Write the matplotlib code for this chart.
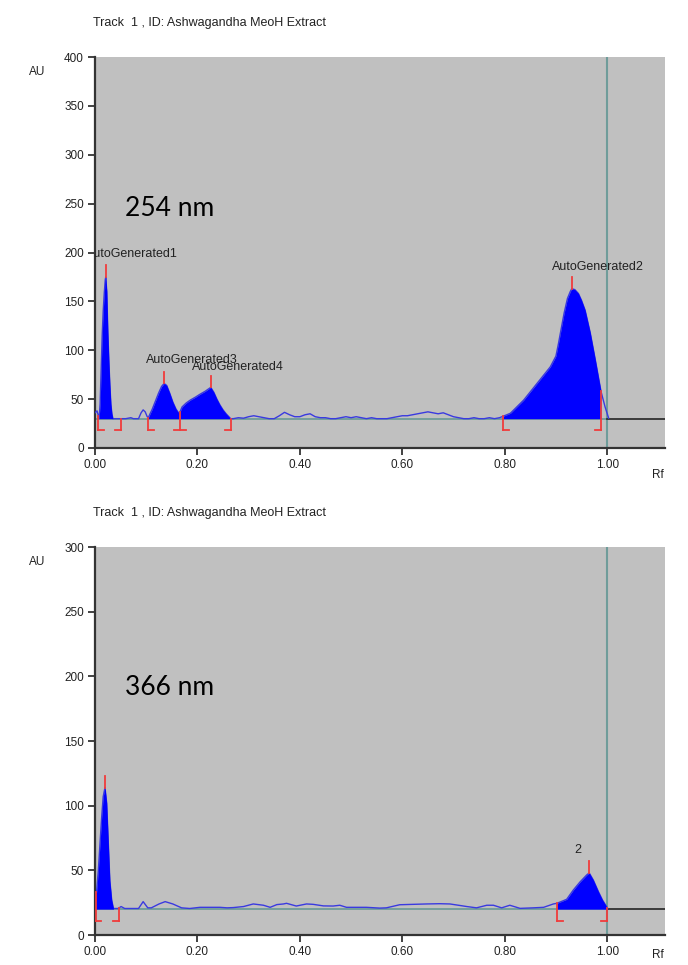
import numpy as np
import matplotlib
matplotlib.use('Agg')
import matplotlib.pyplot as plt

plt.rcParams['font.family'] = ['Liberation Sans', 'DejaVu Sans']

# ---- 254 nm track (top) ----
rf_254 = [0.000, 0.004, 0.008, 0.010, 0.012, 0.014, 0.016, 0.018, 0.020, 0.021, 0.023,
          0.025, 0.027, 0.029, 0.031, 0.033, 0.035, 0.050, 0.060, 0.070, 0.075, 0.085,
          0.090, 0.094, 0.098, 0.102, 0.104, 0.112, 0.118, 0.124, 0.130, 0.135, 0.140,
          0.146, 0.152, 0.158, 0.163, 0.166, 0.170, 0.178, 0.186, 0.196, 0.205, 0.215,
          0.226, 0.232, 0.238, 0.244, 0.250, 0.256, 0.265, 0.270, 0.280, 0.290, 0.300,
          0.310, 0.320, 0.330, 0.340, 0.350, 0.360, 0.370, 0.380, 0.390, 0.400, 0.410,
          0.420, 0.430, 0.440, 0.450, 0.460, 0.470, 0.480, 0.490, 0.500, 0.510, 0.520,
          0.530, 0.540, 0.550, 0.560, 0.570, 0.580, 0.590, 0.600, 0.610, 0.620, 0.630,
          0.640, 0.650, 0.660, 0.670, 0.680, 0.690, 0.700, 0.710, 0.720, 0.730, 0.740,
          0.750, 0.760, 0.770, 0.780, 0.790, 0.797, 0.811, 0.837, 0.863, 0.889, 0.900,
          0.905, 0.911, 0.916, 0.9225, 0.928, 0.931, 0.937, 0.944, 0.950, 0.957, 0.967,
          0.977, 0.988, 0.996, 1.003]
au_254 = [36, 38, 30, 45, 80, 115, 140, 158, 172, 175, 160,
          120, 90, 65, 45, 35, 30, 30, 30, 31, 30, 30,
          36, 39, 37, 32, 31, 40, 48, 56, 63, 66, 64,
          56, 47, 40, 36, 37, 42, 46, 49, 52, 55, 58,
          62, 57, 50, 44, 39, 35, 30, 30, 31, 30.5, 32,
          33, 32, 31, 30, 30, 33, 36.5, 34, 32, 32, 34,
          35, 32, 31, 31, 30, 30, 31, 32, 31, 32, 31,
          30, 31, 30, 30, 30, 31, 32, 33, 33, 34, 35,
          36, 37, 36, 35, 36, 34, 32, 31, 30, 30, 31,
          30, 30, 31, 30, 31, 32.5, 35.5, 49, 66, 83, 94,
          107, 124, 138, 153, 160, 163, 162, 158, 151, 141, 118,
          90, 58, 42, 30.5]
base_254 = 30
windows_254 = [(0.008, 0.035), (0.104, 0.166), (0.166, 0.265), (0.797, 0.988)]
peaks_254 = [(0.021, 175), (0.135, 66), (0.226, 62), (0.931, 163)]
brackets_254 = [(0.0065, 'l'), (0.050, 'r'), (0.104, 'l'), (0.166, 't'),
                (0.265, 'r'), (0.797, 'l'), (0.988, 'r')]
labels_254 = ['AutoGenerated1', 'AutoGenerated3', 'AutoGenerated4', 'AutoGenerated2']
label_pos_254 = [(-0.018, 198), (0.100, 90), (0.189, 83), (0.892, 185)]

# ---- 366 nm track (bottom) ----
rf_366 = [0.000, 0.003, 0.0065, 0.0098, 0.013, 0.016, 0.0195, 0.0228, 0.026, 0.029, 0.0326,
          0.036, 0.045, 0.051, 0.058, 0.085, 0.094, 0.103, 0.110, 0.125, 0.137, 0.152,
          0.169, 0.185, 0.205, 0.225, 0.244, 0.258, 0.270, 0.290, 0.309, 0.329, 0.342,
          0.355, 0.368, 0.374, 0.393, 0.413, 0.426, 0.446, 0.465, 0.478, 0.491, 0.504,
          0.530, 0.556, 0.569, 0.595, 0.621, 0.647, 0.673, 0.693, 0.713, 0.726, 0.745,
          0.765, 0.778, 0.794, 0.810, 0.830, 0.856, 0.876, 0.895, 0.902, 0.921, 0.934,
          0.947, 0.960, 0.965, 0.973, 0.983, 0.991, 1.001]
au_366 = [33, 33, 50, 71, 91, 107, 114, 102, 71, 42, 27,
          20.5, 20.5, 22, 20.5, 20.5, 25.8, 21, 21, 24, 25.8, 24,
          21, 20.5, 21.4, 21.4, 21.4, 21, 21.2, 22, 24, 23, 21.4,
          23.5, 24, 24.5, 22.4, 24, 23.7, 22.5, 22.4, 23, 21.4, 21.4,
          21.4, 20.8, 21, 23.4, 23.7, 24, 24.2, 24, 22.8, 22, 21,
          23, 23, 21, 23, 20.6, 21, 21.4, 24, 24.5, 27.6, 34.8,
          41, 46.4, 48, 42.5, 33.5, 27, 20.6]
base_366 = 20
windows_366 = [(0.000, 0.036), (0.902, 1.001)]
peaks_366 = [(0.0195, 114), (0.965, 48)]
brackets_366 = [(0.001, 'l'), (0.046, 'r'), (0.902, 'l'), (1.000, 'r')]
labels_366 = ['2']
label_pos_366 = [(0.935, 66)]

x_ticks = [0.0, 0.2, 0.4, 0.6, 0.8, 1.0]
x_ticklabels = ['0.00', '0.20', '0.40', '0.60', '0.80', '1.00']

GRAY = '#c0c0c0'
BLUE = '#0000ff'
LINE = '#3a3ae0'
RED = '#f03c3c'
TEAL = '#6f9c9a'


def draw_track(ax, rf, au, base, ymax, windows, peaks, brackets, labels, label_pos, tick_h):
    rf = np.array(rf)
    au = np.array(au)
    ax.set_facecolor(GRAY)
    ax.set_xlim(0, 1.113)
    ax.set_ylim(0, ymax)
    # baseline: teal up to front, dark beyond
    ax.plot([0, 1.0], [base, base], color=TEAL, lw=1.3, zorder=2)
    ax.plot([1.0, 1.113], [base, base], color='#303030', lw=1.3, zorder=2)
    ax.axvline(1.0, color=TEAL, lw=1.5, zorder=1)
    ax.plot(rf, au, color=LINE, lw=1.0, zorder=3)
    for a, b in windows:
        m = (rf >= a - 1e-9) & (rf <= b + 1e-9)
        ax.fill_between(rf[m], base, au[m], color=BLUE, lw=0, zorder=4)
    for x, y in peaks:
        ax.plot([x, x], [y, y + tick_h], color=RED, lw=1.3, zorder=5)
    low = base - tick_h
    foot = 0.011
    for x, kind in brackets:
        top = max(base, float(np.interp(x, rf, au)))
        ax.plot([x, x], [top, low], color=RED, lw=1.3, zorder=5)
        if kind == 'l':
            ax.plot([x, x + foot], [low, low], color=RED, lw=1.3, zorder=5)
        elif kind == 'r':
            ax.plot([x - foot, x], [low, low], color=RED, lw=1.3, zorder=5)
        else:
            ax.plot([x - foot, x + foot], [low, low], color=RED, lw=1.3, zorder=5)
    for text, (x, y) in zip(labels, label_pos):
        ax.text(x, y, text, fontsize=9, color='#222222', ha='left', va='center',
                clip_on=True, zorder=6)
    ax.set_xticks(x_ticks)
    ax.set_xticklabels(x_ticklabels)
    ax.set_yticks(np.arange(0, ymax + 1, 50))
    ax.tick_params(labelsize=8.5, length=5, width=1.2, pad=3, colors='#222222')
    for s in ['top', 'right']:
        ax.spines[s].set_visible(False)
    for s in ['left', 'bottom']:
        ax.spines[s].set_linewidth(1.6)
        ax.spines[s].set_color('#333333')


fig = plt.figure(figsize=(6.88, 9.65), dpi=100)
ax1 = fig.add_axes([95 / 688, 1 - 448 / 965, 570 / 688, 391 / 965])
ax2 = fig.add_axes([95 / 688, 1 - 935 / 965, 570 / 688, 388 / 965])

draw_track(ax1, rf_254, au_254, base_254, 400, windows_254, peaks_254, brackets_254,
           labels_254, label_pos_254, 12)
draw_track(ax2, rf_366, au_366, base_366, 300, windows_366, peaks_366, brackets_366,
           labels_366, label_pos_366, 9)

for ytop in [23, 513]:
    fig.text(93 / 688, 1 - ytop / 965, 'Track  1 , ID: Ashwagandha MeoH Extract',
             fontsize=9, color='#222222', va='center', ha='left')
for yau in [72, 562]:
    fig.text(37 / 688, 1 - yau / 965, 'AU', fontsize=8.5, color='#222222', va='center', ha='center')
for yrf in [475, 955]:
    fig.text(658 / 688, 1 - yrf / 965, 'Rf', fontsize=8.5, color='#222222', va='center', ha='center')

ax1.text(0.058, 245, '254 nm', fontsize=19, family=['Lato', 'DejaVu Sans'], va='center', ha='left')
ax2.text(0.058, 191, '366 nm', fontsize=19, family=['Lato', 'DejaVu Sans'], va='center', ha='left')

fig.savefig('out.png', dpi=100, facecolor='white')
